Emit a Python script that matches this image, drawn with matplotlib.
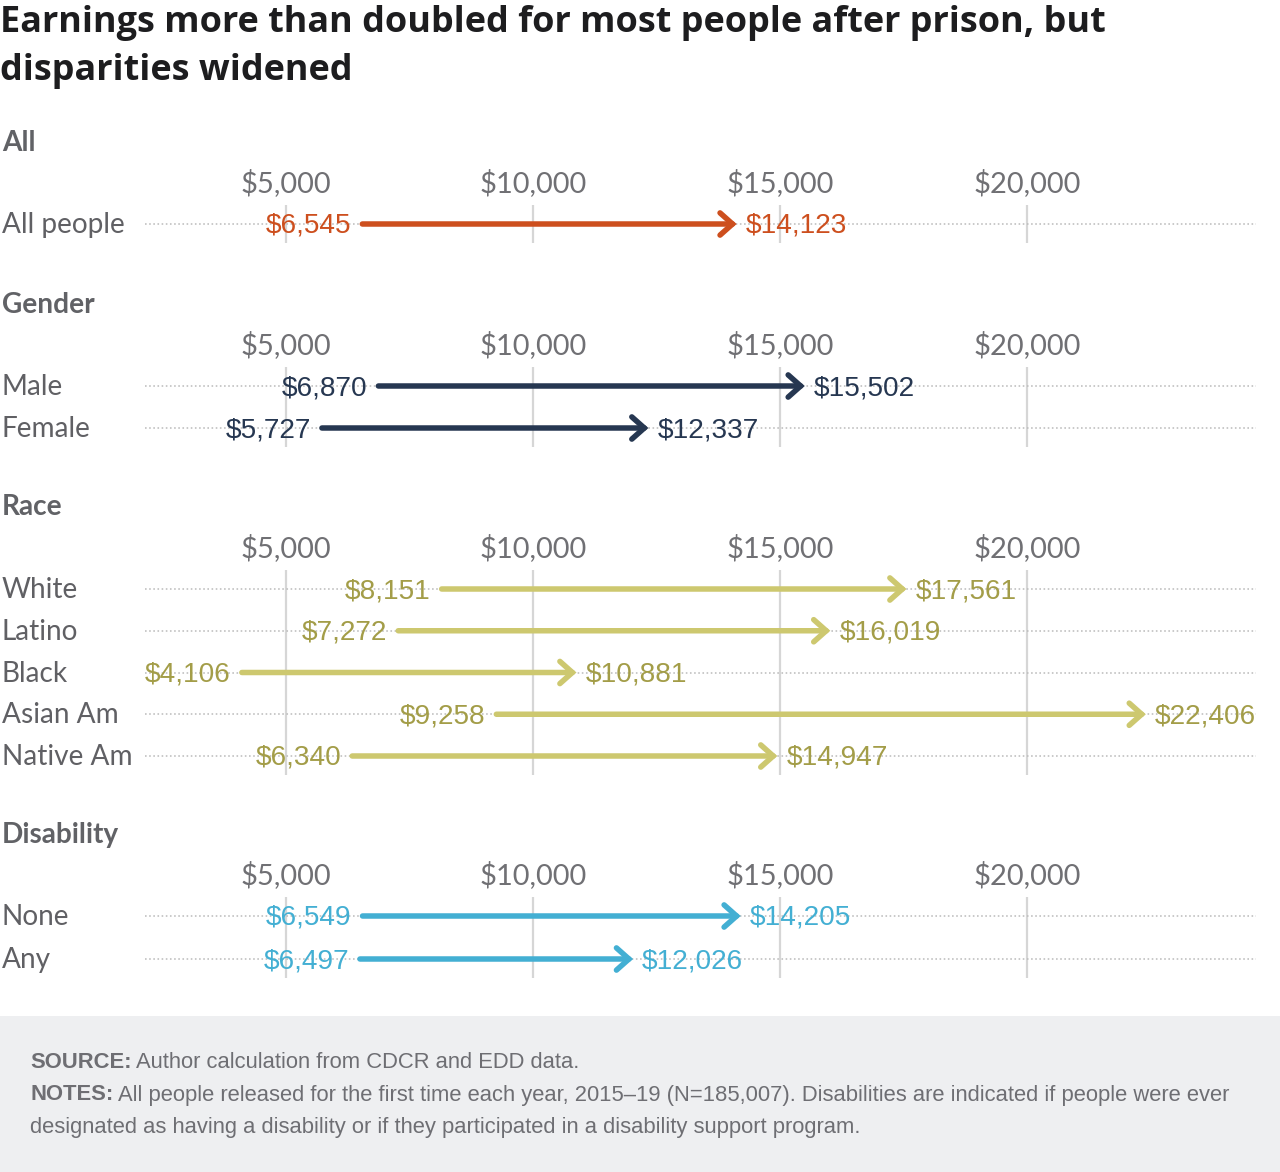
import matplotlib
matplotlib.use("Agg")
import matplotlib.pyplot as plt
from matplotlib.transforms import blended_transform_factory

# ---------------- data ----------------
sections = ["All", "Gender", "Race", "Disability"]
all_labels = ["All people"]
all_before = [6545]
all_after = [14123]
gender_labels = ["Male", "Female"]
gender_before = [6870, 5727]
gender_after = [15502, 12337]
race_labels = ["White", "Latino", "Black", "Asian Am", "Native Am"]
race_before = [8151, 7272, 4106, 9258, 6340]
race_after = [17561, 16019, 10881, 22406, 14947]
dis_labels = ["None", "Any"]
dis_before = [6549, 6497]
dis_after = [14205, 12026]
tick_values = [5000, 10000, 15000, 20000]
tick_labels = ["$5,000", "$10,000", "$15,000", "$20,000"]

title_line1 = "Earnings more than doubled for most people after prison, but"
title_line2 = "disparities widened"
source_text = "Author calculation from CDCR and EDD data."
notes_line1 = "All people released for the first time each year, 2015\u201319 (N=185,007). Disabilities are indicated if people were ever"
notes_line2 = "designated as having a disability or if they participated in a disability support program."

# ---------------- style ----------------
W, H = 1280, 1172
DPI = 100
fig = plt.figure(figsize=(W / DPI, H / DPI), dpi=DPI)
fig.patch.set_facecolor("white")

def fx(px):
    return px / W

def fy(py):
    return 1 - py / H

def pt(px):
    return px * 72 / DPI

LABEL_FONT = ["Lato", "DejaVu Sans"]
TITLE_FONT = ["Open Sans", "DejaVu Sans"]
VALUE_FONT = ["Liberation Sans", "DejaVu Sans"]

panels = [
    dict(name="All", labels=all_labels, before=all_before, after=all_after,
         line="#cd4f1e", text="#cd4f1e", header_y=143, first_row=224, spacing=42),
    dict(name="Gender", labels=gender_labels, before=gender_before, after=gender_after,
         line="#263751", text="#263751", header_y=305, first_row=386, spacing=42),
    dict(name="Race", labels=race_labels, before=race_before, after=race_after,
         line="#cdc86f", text="#a39d48", header_y=507, first_row=589, spacing=41.75),
    dict(name="Disability", labels=dis_labels, before=dis_before, after=dis_after,
         line="#43afd3", text="#43afd3", header_y=835, first_row=916, spacing=43),
]

# x mapping: $5,000 -> 286px, $20,000 -> 1027px
px_per_dollar = (1027 - 286) / 15000.0
x0_px = 286 - 5000 * px_per_dollar
ax_left_px, ax_right_px = 145, 1256
xlim = ((ax_left_px - x0_px) / px_per_dollar, (ax_right_px - x0_px) / px_per_dollar)

# Title
for ty, tline in ((23, title_line1), (71, title_line2)):
    fig.text(fx(0), fy(ty), tline, ha="left", va="center", fontsize=pt(36), fontweight="bold",
             family=TITLE_FONT, color="#1d1d1f")

for p in panels:
    n = len(p["labels"])
    top_px = p["first_row"] - 19
    bot_px = p["first_row"] + (n - 1) * p["spacing"] + 19
    ax = fig.add_axes([fx(ax_left_px), fy(bot_px), fx(ax_right_px) - fx(ax_left_px),
                       (bot_px - top_px) / H])
    ax.set_xlim(*xlim)
    r0 = -19 / p["spacing"]
    r1 = (n - 1) + 19 / p["spacing"]
    ax.set_ylim(r1, r0)
    ax.set_facecolor("none")
    for s in ax.spines.values():
        s.set_visible(False)
    ax.set_yticks([])
    ax.xaxis.tick_top()
    ax.set_xticks(tick_values)
    ax.set_xticklabels(tick_labels, fontsize=pt(29), color="#707074", family=LABEL_FONT)
    ax.tick_params(axis="x", length=0, pad=pt(8))
    for v in tick_values:
        ax.axvline(v, color="#d6d6d6", lw=pt(2.2), zorder=0)
    for i in range(n):
        ax.axhline(i, color="#bdbdbd", lw=pt(1.6), ls=(0, (1, 1.6)), zorder=0.5)

    # header
    fig.text(fx(2), fy(p["header_y"]), p["name"], ha="left", va="center",
             fontsize=pt(28), fontweight="bold", color="#616266", family=LABEL_FONT)

    trans = blended_transform_factory(fig.transFigure, ax.transData)
    for i, (lab, b, a) in enumerate(zip(p["labels"], p["before"], p["after"])):
        ax.annotate(lab, xy=(fx(2), i), xycoords=trans, xytext=(0, -1),
                    textcoords="offset pixels", ha="left", va="center",
                    fontsize=pt(28), color="#606064", family=LABEL_FONT,
                    annotation_clip=False)
        ax.annotate("", xy=(a, i), xytext=(b, i),
                    arrowprops=dict(arrowstyle="->,head_length=9,head_width=8",
                                    mutation_scale=1, lw=pt(5.5), color=p["line"],
                                    shrinkA=0, shrinkB=0, capstyle="round",
                                    joinstyle="miter"),
                    zorder=3)
        ax.annotate(f"${b:,}", xy=(b, i), xytext=(-11, -2), textcoords="offset pixels",
                    ha="right", va="center", fontsize=pt(28), color=p["text"],
                    family=VALUE_FONT, zorder=4)
        ax.annotate(f"${a:,}", xy=(a, i), xytext=(9, -2), textcoords="offset pixels",
                    ha="left", va="center", fontsize=pt(28), color=p["text"],
                    family=VALUE_FONT, zorder=4)

# footer box
footer = fig.add_axes([0, 0, 1, (H - 1016) / H])
footer.set_facecolor("#eeeff1")
footer.set_xticks([])
footer.set_yticks([])
for s in footer.spines.values():
    s.set_visible(False)
footer.set_zorder(-1)

fig.canvas.draw()
renderer = fig.canvas.get_renderer()
NOTE_SIZE = pt(22)
NOTE_COLOR = "#6e6e73"

def label_pair(y_px, bold, rest):
    t = fig.text(fx(30), fy(y_px), bold, ha="left", va="center", fontsize=NOTE_SIZE,
                 fontweight="bold", color=NOTE_COLOR, family=VALUE_FONT)
    bb = t.get_window_extent(renderer)
    fig.text(bb.x1 / W + fx(5), fy(y_px), rest, ha="left", va="center", fontsize=NOTE_SIZE,
             color=NOTE_COLOR, family=VALUE_FONT)

label_pair(1062, "SOURCE:", source_text)
label_pair(1095, "NOTES:", notes_line1)
fig.text(fx(30), fy(1127), notes_line2, ha="left", va="center", fontsize=NOTE_SIZE,
         color=NOTE_COLOR, family=VALUE_FONT)

fig.savefig("out.png", dpi=DPI)
